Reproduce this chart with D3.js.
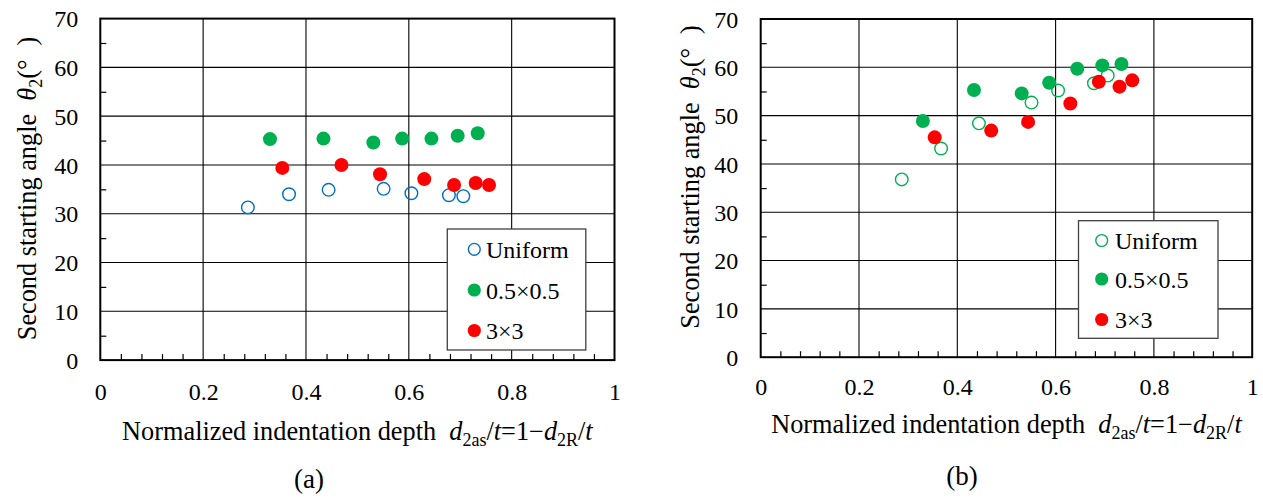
<!DOCTYPE html>
<html>
<head>
<meta charset="utf-8">
<script src="https://cdn.jsdelivr.net/npm/d3@7"></script>
<style>
  body { margin: 0; background: #fff; }
  svg { display: block; }
  text { font-family: "Liberation Serif", "Times New Roman", serif; fill: #000; }
</style>
</head>
<body>
<svg id="fig" width="1263" height="498"></svg>
<script>
// ---- data ----
const seriesNames = ["Uniform", "0.5×0.5", "3×3"];
const xTickValues = [0, 0.2, 0.4, 0.6, 0.8, 1];
const xTickLabels = ["0", "0.2", "0.4", "0.6", "0.8", "1"];
const yTickValues = [0, 10, 20, 30, 40, 50, 60, 70];
const yTickLabels = ["0", "10", "20", "30", "40", "50", "60", "70"];

// normalized indentation depth d2as/t for each indenter
const depthUniform = [0.287, 0.367, 0.444, 0.551, 0.605, 0.678, 0.706];
const depthFine    = [0.330, 0.434, 0.531, 0.587, 0.644, 0.695, 0.734];
const depthCoarse  = [0.354, 0.469, 0.544, 0.630, 0.688, 0.730, 0.756];

// second starting angle θ2 (deg), panel (a)
const angleUniformA = [31.3, 34.0, 34.9, 35.1, 34.2, 33.8, 33.6];
const angleFineA    = [45.3, 45.4, 44.6, 45.4, 45.4, 46.0, 46.5];
const angleCoarseA  = [39.4, 40.0, 38.1, 37.1, 35.9, 36.3, 35.9];

// second starting angle θ2 (deg), panel (b)
const angleUniformB = [36.8, 43.2, 48.4, 52.7, 55.2, 56.7, 58.3];
const angleFineB    = [48.9, 55.3, 54.6, 56.8, 59.7, 60.4, 60.7];
const angleCoarseB  = [45.5, 46.9, 48.7, 52.5, 57.0, 56.0, 57.3];

const GREEN = "#00B050", RED = "#FF0000", BLUE = "#0070C0";
const TITLE_SIZE = 26.3, SUB_SIZE = 18;

const zip = (xs, ys) => xs.map((x, i) => ({ x, y: ys[i] }));

const panels = [
  {
    tag: "(a)", tagX: 309, tagY: 488,
    left: 100.3, right: 614.5, bottom: 360.1, top: 18.6,
    yLabelGap: 22, xLabelBase: 400, titleBase: 440, yTitleX: 27, yTitleY: 188.5,
    series: [
      { name: seriesNames[0], pts: zip(depthUniform, angleUniformA), color: BLUE, open: true },
      { name: seriesNames[1], pts: zip(depthFine, angleFineA), color: GREEN, open: false },
      { name: seriesNames[2], pts: zip(depthCoarse, angleCoarseA), color: RED, open: false }
    ],
    drawOrder: [0, 1, 2],
    legend: { x: 447.3, y: 229, w: 138.5, h: 121, symX: 474.3, textX: 486, rows: [249.3, 290, 330.5] }
  },
  {
    tag: "(b)", tagX: 962, tagY: 485,
    left: 760.7, right: 1252.2, bottom: 357.2, top: 19,
    yLabelGap: 22.5, xLabelBase: 395, titleBase: 433, yTitleX: 690, yTitleY: 177,
    series: [
      { name: seriesNames[0], pts: zip(depthUniform, angleUniformB), color: GREEN, open: true },
      { name: seriesNames[1], pts: zip(depthFine, angleFineB), color: GREEN, open: false },
      { name: seriesNames[2], pts: zip(depthCoarse, angleCoarseB), color: RED, open: false }
    ],
    drawOrder: [1, 0, 2],
    legend: { x: 1078.5, y: 220.7, w: 139.5, h: 117.6, symX: 1101.7, textX: 1115, rows: [240.5, 279, 319.5] }
  }
];

const svg = d3.select("#fig");

function symbol(g, cx, cy, s, r) {
  if (s.open) {
    g.append("circle").attr("cx", cx).attr("cy", cy).attr("r", r - 0.7)
      .attr("fill", "none").attr("stroke", s.color).attr("stroke-width", 1.4);
  } else {
    g.append("circle").attr("cx", cx).attr("cy", cy).attr("r", r).attr("fill", s.color);
  }
}

panels.forEach(p => {
  const g = svg.append("g");
  const x = d3.scaleLinear().domain([0, 1]).range([p.left, p.right]);
  const y = d3.scaleLinear().domain([0, 70]).range([p.bottom, p.top]);
  const w = p.right - p.left, h = p.bottom - p.top;

  // grid lines
  const grid = g.append("g").attr("stroke", "#000").attr("stroke-width", 1.1);
  grid.selectAll("line.h").data(yTickValues.slice(1, -1)).join("line")
    .attr("x1", p.left).attr("x2", p.right).attr("y1", d => y(d)).attr("y2", d => y(d));
  grid.selectAll("line.v").data(xTickValues.slice(1, -1)).join("line")
    .attr("y1", p.top).attr("y2", p.bottom).attr("x1", d => x(d)).attr("x2", d => x(d));

  // minor ticks pointing into the plot
  const minorY = d3.range(5, 70, 10);
  const minorX = d3.range(0.04, 1, 0.04).filter(v => Math.abs(v * 5 - Math.round(v * 5)) > 1e-6);
  g.append("g").attr("transform", `translate(${p.left},0)`)
    .call(d3.axisLeft(y).tickValues(minorY).tickSize(-6).tickFormat(""))
    .call(a => a.select(".domain").remove())
    .selectAll("line").attr("stroke", "#000").attr("stroke-width", 1.2);
  g.append("g").attr("transform", `translate(0,${p.bottom})`)
    .call(d3.axisBottom(x).tickValues(minorX).tickSize(-6).tickFormat(""))
    .call(a => a.select(".domain").remove())
    .selectAll("line").attr("stroke", "#000").attr("stroke-width", 1.2);

  // frame
  g.append("rect").attr("x", p.left).attr("y", p.top).attr("width", w).attr("height", h)
    .attr("fill", "none").attr("stroke", "#000").attr("stroke-width", 2);

  // tick labels
  const yAx = g.append("g").attr("transform", `translate(${p.left},0)`)
    .call(d3.axisLeft(y).tickValues(yTickValues).tickSize(0).tickPadding(p.yLabelGap)
      .tickFormat((d, i) => yTickLabels[i]));
  yAx.select(".domain").remove();
  yAx.selectAll("text").attr("font-size", 24).attr("dy", "0.34em")
    .style("font-family", '"Liberation Serif", serif');

  const xAx = g.append("g").attr("transform", `translate(0,${p.bottom})`)
    .call(d3.axisBottom(x).tickValues(xTickValues).tickSize(0).tickPadding(0)
      .tickFormat((d, i) => xTickLabels[i]));
  xAx.select(".domain").remove();
  xAx.selectAll("text").attr("font-size", 24).attr("dy", 0)
    .attr("y", p.xLabelBase - p.bottom)
    .style("font-family", '"Liberation Serif", serif');

  // data points
  const marks = g.append("g");
  p.drawOrder.forEach(i => {
    const s = p.series[i];
    s.pts.forEach(d => symbol(marks, x(d.x), y(d.y), s, 7));
  });

  // legend
  const L = p.legend;
  const lg = g.append("g");
  lg.append("rect").attr("x", L.x).attr("y", L.y).attr("width", L.w).attr("height", L.h)
    .attr("fill", "#fff").attr("stroke", "#404040").attr("stroke-width", 1.3);
  p.series.forEach((s, i) => {
    symbol(lg, L.symX, L.rows[i], s, 6.6);
    lg.append("text").attr("x", L.textX).attr("y", L.rows[i] + 8.5)
      .attr("font-size", 24).text(s.name);
  });

  // x-axis title
  const xt = g.append("text").attr("x", (p.left + p.right) / 2).attr("y", p.titleBase)
    .attr("text-anchor", "middle").attr("font-size", TITLE_SIZE);
  xt.append("tspan").text("Normalized indentation depth\u00A0\u00A0");
  xt.append("tspan").attr("font-style", "italic").text("d");
  xt.append("tspan").attr("font-size", SUB_SIZE).attr("dy", 6).text("2as");
  xt.append("tspan").attr("dy", -6).text("/");
  xt.append("tspan").attr("font-style", "italic").text("t");
  xt.append("tspan").text("=1\u2212");
  xt.append("tspan").attr("font-style", "italic").text("d");
  xt.append("tspan").attr("font-size", SUB_SIZE).attr("dy", 6).text("2R");
  xt.append("tspan").attr("dy", -6).text("/");
  xt.append("tspan").attr("font-style", "italic").text("t");

  // y-axis title
  const yt = g.append("text")
    .attr("transform", `translate(${p.yTitleX},${p.yTitleY}) rotate(-90)`)
    .attr("text-anchor", "middle").attr("dy", "0.35em").attr("font-size", TITLE_SIZE);
  yt.append("tspan").text("Second starting angle\u00A0\u00A0");
  yt.append("tspan").attr("font-style", "italic").text("\u03B8");
  yt.append("tspan").attr("font-size", SUB_SIZE).attr("dy", 6).text("2");
  yt.append("tspan").attr("dy", -6).text("(\u00B0");
  yt.append("tspan").attr("dx", 14).text(")");

  // panel tag
  g.append("text").attr("x", p.tagX).attr("y", p.tagY).attr("text-anchor", "middle")
    .attr("font-size", 27).text(p.tag);
});
</script>
</body>
</html>
